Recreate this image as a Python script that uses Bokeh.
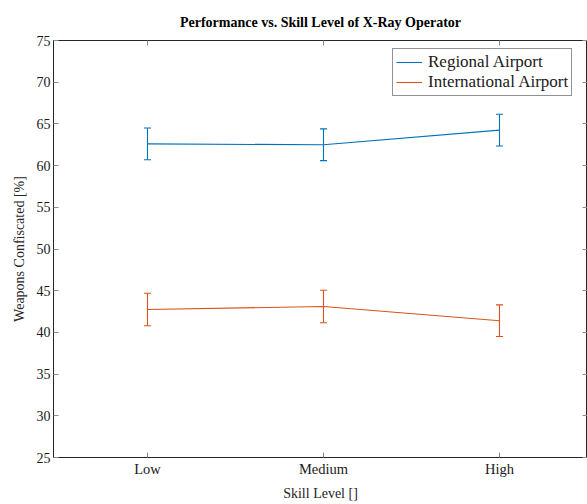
from bokeh.plotting import figure
from bokeh.models import (ColumnDataSource, Whisker, TeeHead, LinearAxis, FixedTicker, Range1d)
from bokeh.embed import file_html
from bokeh.resources import INLINE

categories = ["Low", "Medium", "High"]
x_pos = [1, 2, 3]
regional = [62.6, 62.5, 64.25]
regional_err = [1.9, 1.9, 1.9]
international = [42.75, 43.1, 41.4]
international_err = [1.95, 1.95, 1.9]
y_ticks = [25, 30, 35, 40, 45, 50, 55, 60, 65, 70, 75]

BLUE = "#0072BD"
ORANGE = "#D95319"
FONT = "Liberation Serif"

p = figure(width=587, height=504, output_backend="svg", toolbar_location=None,
           x_range=Range1d(0.466, 3.5), y_range=Range1d(25, 75),
           title="Performance vs. Skill Level of X-Ray Operator",
           min_border_left=53, min_border_right=0, min_border_top=40, min_border_bottom=47)
p.title.align = "center"
p.title.text_font = FONT
p.title.text_font_size = "14px"
p.title.text_font_style = "bold"
p.title.text_color = "#000000"
p.title.standoff = 21
p.grid.visible = False
p.outline_line_color = "#262626"
p.background_fill_color = "white"
p.border_fill_color = "white"

def style_axis(ax, labels=True):
    ax.axis_line_color = "#262626"
    ax.major_tick_line_color = "#8a8a8a"
    ax.major_tick_in = 5
    ax.major_tick_out = 0
    ax.minor_tick_line_color = None
    ax.major_label_text_font = FONT
    ax.major_label_text_color = "#1a1a1a"
    ax.axis_label_text_font = FONT
    ax.axis_label_text_font_style = "normal"
    ax.axis_label_text_color = "#262626"
    if not labels:
        ax.major_label_overrides = {t: "" for t in ax.ticker.ticks}
        ax.major_label_standoff = 0
        ax.axis_label_standoff = 0

xa = p.xaxis[0]
xa.ticker = FixedTicker(ticks=x_pos)
xa.major_label_overrides = {x: c for x, c in zip(x_pos, categories)}
xa.axis_label = "Skill Level []"
style_axis(xa)
xa.major_label_text_font_size = "14.5px"
xa.axis_label_text_font_size = "14px"
xa.major_label_standoff = 3
xa.axis_label_standoff = 6

ya = p.yaxis[0]
ya.ticker = FixedTicker(ticks=y_ticks)
ya.axis_label = "Weapons Confiscated [%]"
style_axis(ya)
ya.major_label_text_font_size = "14px"
ya.axis_label_text_font_size = "14px"
ya.major_label_standoff = 3
ya.axis_label_standoff = 7

top = LinearAxis(ticker=FixedTicker(ticks=x_pos))
style_axis(top, labels=False)
p.add_layout(top, "above")
right = LinearAxis(ticker=FixedTicker(ticks=y_ticks))
style_axis(right, labels=False)
p.add_layout(right, "right")

for vals, errs, color, name in [(regional, regional_err, BLUE, "Regional Airport"),
                                 (international, international_err, ORANGE, "International Airport")]:
    src = ColumnDataSource(dict(x=x_pos, y=vals,
                                upper=[v + e for v, e in zip(vals, errs)],
                                lower=[v - e for v, e in zip(vals, errs)]))
    p.line("x", "y", source=src, line_color=color, line_width=1.1, legend_label=name)
    w = Whisker(source=src, base="x", upper="upper", lower="lower", dimension="height",
                line_color=color, line_width=1.1,
                upper_head=TeeHead(size=7, line_color=color, line_width=1.1),
                lower_head=TeeHead(size=7, line_color=color, line_width=1.1))
    p.add_layout(w)

lg = p.legend[0]
lg.location = (339, 361)
lg.border_line_color = "#262626"
lg.border_line_width = 1
lg.background_fill_alpha = 1
lg.label_text_font = FONT
lg.label_text_font_size = "17px"
lg.label_text_color = "#1a1a1a"
lg.glyph_width = 26
lg.glyph_height = 16
lg.label_height = 16
lg.spacing = 0
lg.padding = 3
lg.label_standoff = 6

open("out.html", "w").write(file_html(p, INLINE))
